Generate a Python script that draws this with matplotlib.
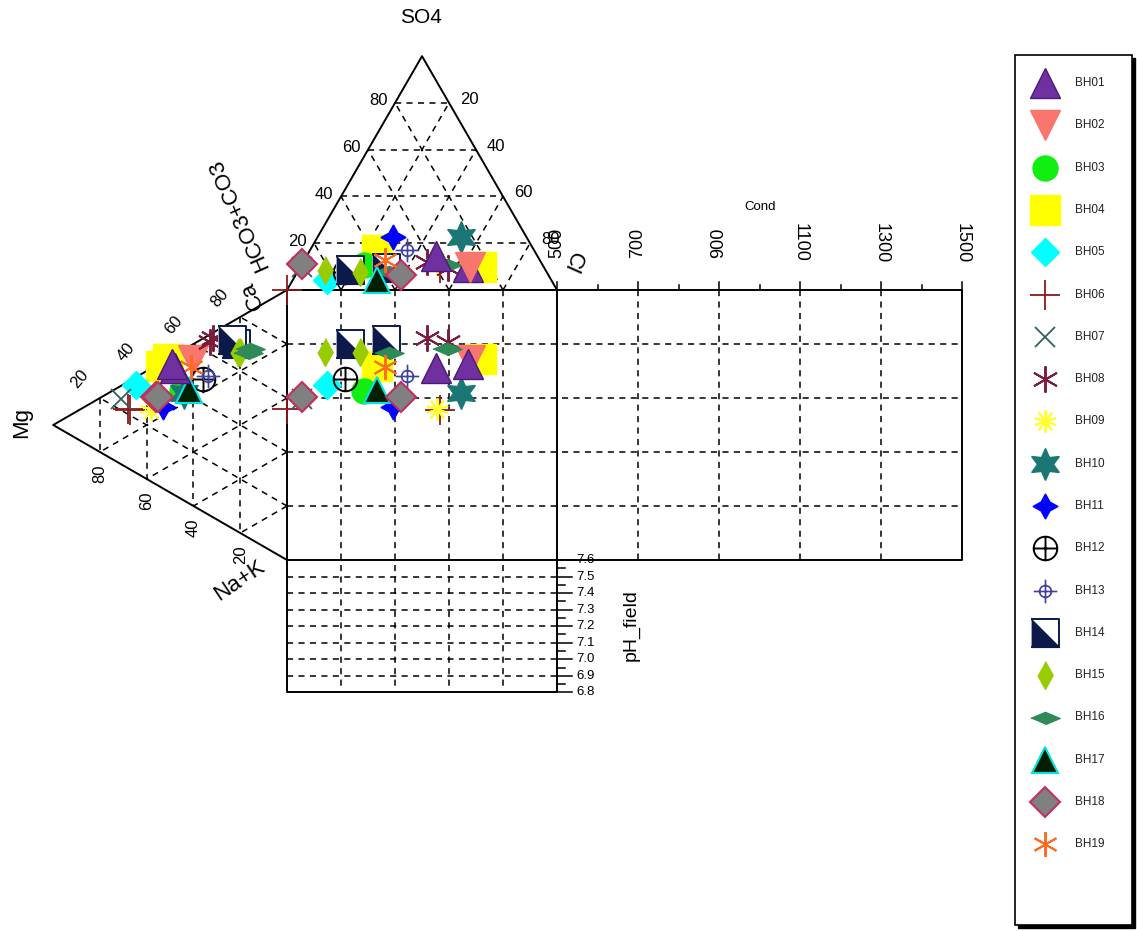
import numpy as np
import matplotlib.pyplot as plt
from matplotlib.path import Path
from matplotlib.patches import Rectangle

plt.rcParams['font.family'] = ['Liberation Sans', 'DejaVu Sans']

wells = ['BH%02d' % i for i in range(1, 20)]

# one entry per sample (ionic percentages, meq basis)
sample_well = ['BH01', 'BH01', 'BH02', 'BH03', 'BH04', 'BH04', 'BH05', 'BH06', 'BH06',
               'BH07', 'BH08', 'BH08', 'BH09', 'BH10', 'BH11', 'BH12', 'BH13', 'BH14',
               'BH14', 'BH15', 'BH15', 'BH16', 'BH16', 'BH17', 'BH18', 'BH18', 'BH19']
so4 = [14.5, 10.0, 10.0, 10.7, 17.0, 10.0, 4.3, 0.0, 9.4,
       10.0, 12.0, 9.4, 12.0, 22.6, 22.6, 7.7, 17.0, 8.5,
       9.4, 8.5, 7.7, 7.7, 10.7, 4.3, 11.0, 6.4, 12.8]
cl = [48.0, 62.0, 62.8, 23.0, 25.0, 67.0, 12.7, 0.0, 52.0,
      0.5, 46.0, 55.0, 49.6, 53.0, 28.0, 17.6, 36.0, 19.0,
      32.0, 10.0, 23.0, 34.0, 54.0, 31.0, 0.0, 39.0, 30.0]
mg = [48.0, 49.0, 40.0, 44.7, 54.0, 51.0, 64.7, 68.0, 67.0,
      71.0, 31.5, 32.8, 58.0, 44.0, 53.0, 36.0, 33.6, 22.0,
      23.4, 21.0, 20.0, 16.6, 15.7, 42.0, 56.0, 55.0, 41.0]
nak = [5.0, 3.0, 6.0, 15.0, 1.0, 0.0, 3.0, 10.0, 11.0,
       5.0, 2.0, 3.0, 15.0, 16.0, 17.0, 15.0, 15.0, 9.0,
       7.0, 12.5, 13.0, 15.0, 14.0, 16.0, 11.6, 12.0, 8.0]

pct_ticks = [20, 40, 60, 80]
cond_ticks = [500, 700, 900, 1100, 1300, 1500]
cond_rot = [90, 90, 90, -90, -90, -90]
ph_ticks = [7.6, 7.5, 7.4, 7.3, 7.2, 7.1, 7.0, 6.9, 6.8]

H = np.sqrt(3) / 2


def anion_xy(s, c):
    s, c = np.asarray(s), np.asarray(c)
    return c + s / 2, s * H


def cation_xy(m, n):
    m, n = np.asarray(m), np.asarray(n)
    return -m * H, -(n + m / 2)


def cond_x(c):
    return 100 + (np.asarray(c) - 500) * 0.15


def ph_y(p):
    return -100 - (7.6 - np.asarray(p)) / 0.8 * 49


# marker styles per well
circ = Path.unit_circle()
circle_cross = Path.make_compound_path(circ, Path([(-1, 0), (1, 0)]), Path([(0, -1), (0, 1)]))
crosshair = Path.make_compound_path(Path(circ.vertices * 0.5, circ.codes),
                                    Path([(-1, 0), (1, 0)]), Path([(0, -1), (0, 1)]))
box = [(-1, -1), (1, -1), (1, 1), (-1, 1)]
half_box = [(-1, 1), (1, -1), (-1, -1)]
vdiamond = [(0, 1), (0.55, 0), (0, -1), (-0.55, 0)]
hdiamond = [(-1, 0), (0, 0.42), (1, 0), (0, -0.42)]

styles = {
    'BH01': dict(marker='^', ms=22, mfc='#7030a0', mec='#4b1a7a', mew=1),
    'BH02': dict(marker='v', ms=22, mfc='#f8766d', mec='#f8766d', mew=1),
    'BH03': dict(marker='o', ms=18, mfc='#11ee11', mec='#11ee11', mew=1),
    'BH04': dict(marker='s', ms=21, mfc='#ffff00', mec='#ffff00', mew=1),
    'BH05': dict(marker='D', ms=14, mfc='#00ffff', mec='#00ffff', mew=1),
    'BH06': dict(marker='+', ms=21, mfc='none', mec='#8b1a1a', mew=1.3),
    'BH07': dict(marker='x', ms=14, mfc='none', mec='#2f6060', mew=1.3),
    'BH08': dict(marker=(6, 2, 0), ms=19, mfc='none', mec='#7b1c3c', mew=1.4),
    'BH09': dict(marker=(10, 2, 0), ms=16, mfc='none', mec='#ffff30', mew=1.4),
    'BH10': dict(marker=(6, 1, 0), ms=23, mfc='#1b7676', mec='#1b7676', mew=1),
    'BH11': dict(marker=(4, 1, 0), ms=18, mfc='#0000ff', mec='#0000ff', mew=1),
    'BH12': dict(marker=circle_cross, ms=17, mfc='none', mec='black', mew=1.4),
    'BH13': dict(marker=crosshair, ms=17, mfc='none', mec='#4040a0', mew=1.2),
    'BH14': dict(marker=box, ms=20, mfc='white', mec='#0b1a4a', mew=1.4),
    'BH15': dict(marker=vdiamond, ms=20, mfc='#99cc00', mec='#99cc00', mew=1),
    'BH16': dict(marker=hdiamond, ms=21, mfc='#2e8b57', mec='#2e8b57', mew=1),
    'BH17': dict(marker='^', ms=19, mfc='#002000', mec='#00e5e5', mew=1.5),
    'BH18': dict(marker='D', ms=15, mfc='#808080', mec='#c03060', mew=1.5),
    'BH19': dict(marker=(6, 2, 0), ms=18, mfc='none', mec='#ff6a20', mew=1.4),
}


def draw_mark(ax, x, y, w, zorder=5):
    ax.plot(x, y, ls='none', zorder=zorder, **styles[w])
    if w == 'BH14':
        ax.plot(x, y, ls='none', marker=half_box, ms=20, mfc='#0b1a4a',
                mec='#0b1a4a', mew=1, zorder=zorder)


fig = plt.figure(figsize=(11.37, 9.31), dpi=100)
ax = fig.add_axes([0, 0, 1, 1])
ax.set_xlim(-106.3, 314.8)
ax.set_ylim(-237.4, 107.4)
ax.axis('off')

solid = dict(color='black', lw=1.4, zorder=2)
dash = dict(color='black', lw=1.1, ls=(0, (4, 3.5)), zorder=1)

# outlines
ax.plot([0, 100, 50, 0], [0, 0, 100 * H, 0], **solid)
ax.plot([0, -100 * H, 0], [0, -50, -100], **solid)
ax.plot([0, 250, 250, 0, 0], [0, 0, -100, -100, 0], **solid)
ax.plot([100, 100], [0, -100], **solid)
ax.plot([0, 0, 100, 100], [-100, ph_y(6.8), ph_y(6.8), -100], **solid)

for k in pct_ticks:
    # anion triangle grid
    x, y = anion_xy([k, k], [0, 100 - k])
    ax.plot(x, y, **dash)
    x, y = anion_xy([0, 100 - k], [k, k])
    ax.plot(x, y, **dash)
    x, y = anion_xy([0, 100 - k], [100 - k, 0])
    ax.plot(x, y, **dash)
    # cation triangle grid
    x, y = cation_xy([k, k], [0, 100 - k])
    ax.plot(x, y, **dash)
    x, y = cation_xy([0, 100 - k], [k, k])
    ax.plot(x, y, **dash)
    x, y = cation_xy([0, 100 - k], [100 - k, 0])
    ax.plot(x, y, **dash)
    # square, cond and pH grid
    ax.plot([k, k], [0, ph_y(6.8)], **dash)
    ax.plot([0, 250], [-k, -k], **dash)

for c in cond_ticks[1:-1]:
    ax.plot([cond_x(c)] * 2, [0, -100], **dash)
for p in ph_ticks[1:-1]:
    ax.plot([0, 100], [ph_y(p)] * 2, **dash)

# axis ticks
for c in range(500, 1501, 100):
    h = 3.0 if (c - 500) % 200 == 0 else 2.0
    ax.plot([cond_x(c)] * 2, [0, h], color='black', lw=1.1, zorder=2)
for c, r in zip(cond_ticks, cond_rot):
    ax.text(cond_x(c), 17.5, str(c), rotation=r, ha='center', va='center', fontsize=13)
for i in range(17):
    p = 7.6 - i * 0.05
    ln = 5.5 if i % 2 == 0 else 3.0
    ax.plot([100, 100 + ln], [ph_y(p)] * 2, color='black', lw=1.1, zorder=2)
for p in ph_ticks:
    ax.text(107, ph_y(p), '%.1f' % p, ha='left', va='center', fontsize=9.5)

# percentage labels
for k in pct_ticks:
    x, y = anion_xy(k, 0)
    ax.text(x - 6.2, y + 0.8, str(k), ha='center', va='center', fontsize=12)
    x, y = anion_xy(100 - k, k)
    ax.text(x + 7.5, y + 1.3, str(k), ha='center', va='center', fontsize=12)
    x, y = cation_xy(100 - k, 0)
    ax.text(x - 7.5, y + 7.0, str(k), rotation=50, ha='center', va='center', fontsize=12)
    x, y = cation_xy(k, 100 - k)
    ax.text(x, y - 8.2, str(k), rotation=90, ha='center', va='center', fontsize=12)

# axis titles
ax.text(49.6, 101.1, 'SO4', ha='center', va='center', fontsize=15)
ax.text(-98.2, -49, 'Mg', rotation=90, ha='center', va='center', fontsize=16)
ax.text(-17.8, 28.0, 'HCO3+CO3', rotation=114, ha='center', va='center', fontsize=16)
ax.text(-12.8, -1.8, 'Ca', rotation=114, ha='center', va='center', fontsize=16)
ax.text(105.8, 10.5, 'Cl', rotation=-114, ha='center', va='center', fontsize=16)
ax.text(-17.5, -107.8, 'Na+K', rotation=34, ha='center', va='center', fontsize=16)
ax.text(175.2, 30.8, 'Cond', ha='center', va='center', fontsize=9.5)
ax.text(127.5, -124, 'pH_field', rotation=90, ha='center', va='center', fontsize=14)

# drawing order: BH04 goes underneath, BH01 on top (BH02 above it in the anion field)
layer = {w: i for i, w in enumerate(wells)}
layer['BH04'] = -1
layer['BH01'] = len(wells)
layer_an = dict(layer)
layer_an['BH02'] = len(wells) + 1
n = len(sample_well)
order = sorted(range(n), key=lambda i: layer[sample_well[i]])
order_an = sorted(range(n), key=lambda i: layer_an[sample_well[i]])

ax_, ay_ = anion_xy(so4, cl)
cx_, cy_ = cation_xy(mg, nak)
for i in order_an:
    draw_mark(ax, ax_[i], ay_[i], sample_well[i])
for i in order:
    draw_mark(ax, cx_[i], cy_[i], sample_well[i])
for i in order:
    draw_mark(ax, ax_[i], cy_[i], sample_well[i])

# legend box
lg = fig.add_axes([1015 / 1137, 6 / 931, 117 / 1137, 870 / 931])
lg.set_xlim(0, 117)
lg.set_ylim(870, 0)
lg.axis('off')
lg.add_patch(Rectangle((3, 3), 117, 870, facecolor='black', edgecolor='black',
                       clip_on=False, zorder=0))
lg.add_patch(Rectangle((0, 0), 117, 870, facecolor='white', edgecolor='black',
                       lw=1.2, clip_on=False, zorder=1))
for i, w in enumerate(wells):
    yy = 28 + i * 42.3
    draw_mark(lg, 30, yy, w)
    lg.text(60, yy, w, ha='left', va='center', fontsize=8.5, color='#222222', zorder=6)

fig.savefig('out.png', dpi=100)
